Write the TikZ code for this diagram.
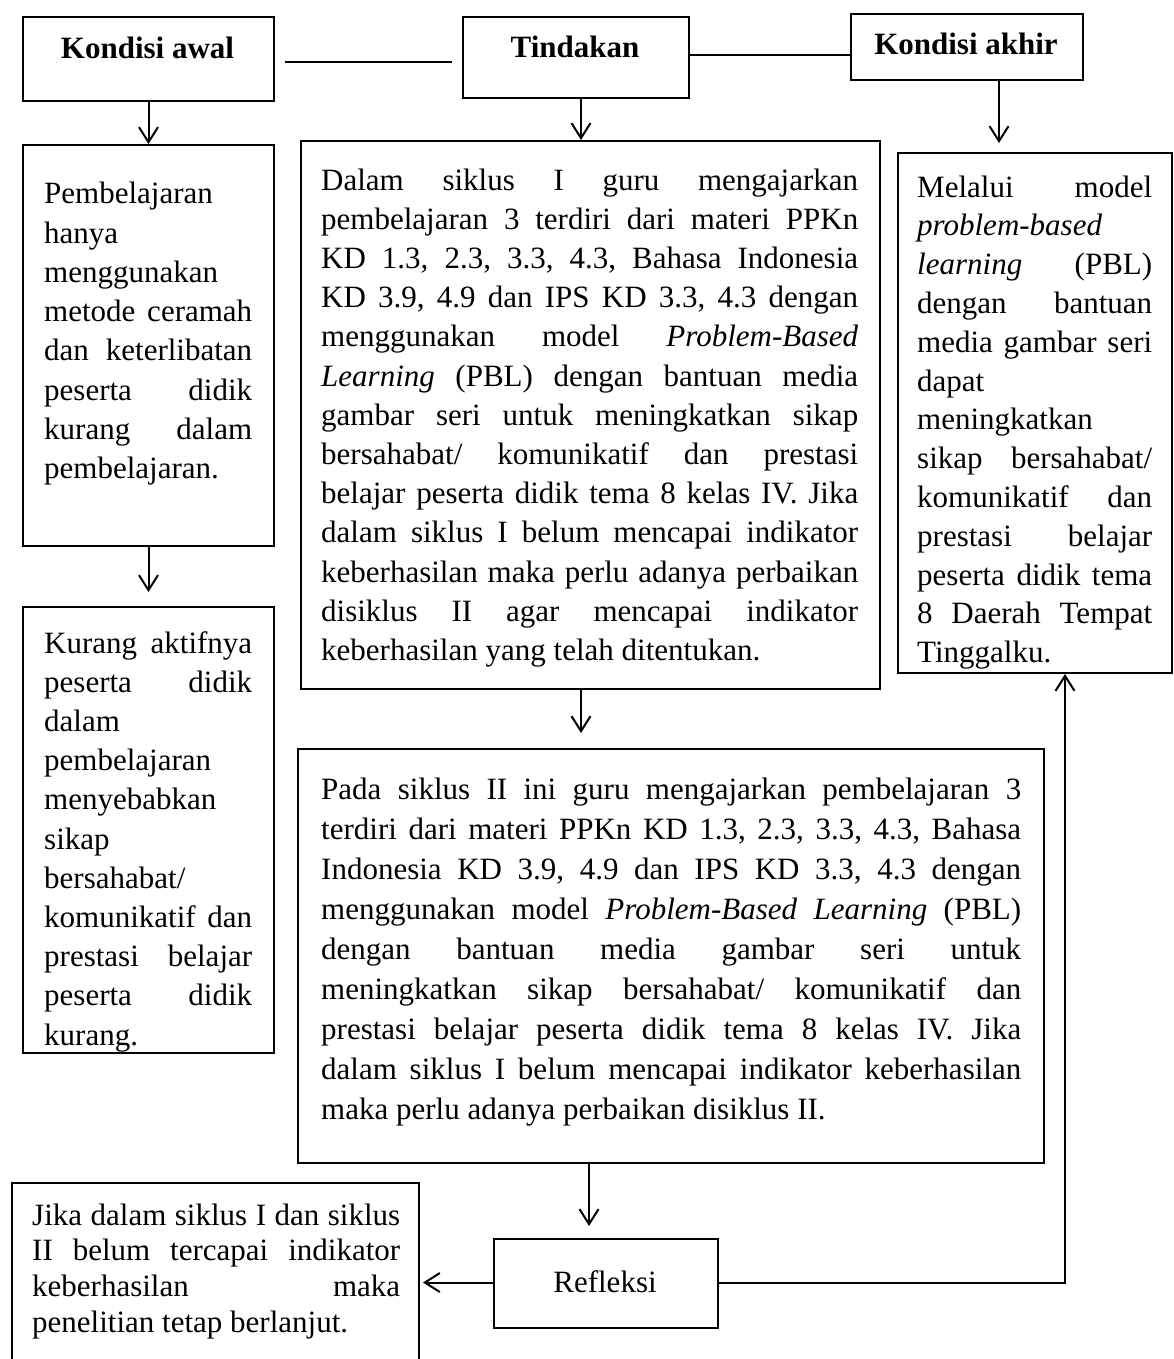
\documentclass[tikz,border=0pt]{standalone}
\usepackage{fontspec}
\setmainfont{Liberation Serif}
\usetikzlibrary{arrows.meta,calc}
\tolerance=10000
\pretolerance=-1
\hyphenpenalty=10000
\exhyphenpenalty=10000
\hbadness=10000
\frenchspacing
\begin{document}
\begin{tikzpicture}[x=1pt,y=-1pt,
  box/.style={draw,line width=2pt,rectangle,inner sep=0pt,anchor=north west},
  txt/.style={anchor=base west,inner sep=0pt,align=justify,font=\fontsize{31}{39.2}\selectfont},
  head/.style={anchor=base,inner sep=0pt,font=\fontsize{31}{39.2}\selectfont\bfseries},
  plain/.style={anchor=base,inner sep=0pt,font=\fontsize{31}{39.2}\selectfont},
  conn/.style={line width=2pt},
  arr/.style={line width=2pt,-{Straight Barb[length=15pt,width=19pt]}}
]
\fill[white] (0,0) rectangle (1173,1359);
\useasboundingbox (0,0) rectangle (1173,1359);

% header boxes
\node[box,minimum width=251pt,minimum height=84pt] (ka) at (22,16) {};
\node[box,minimum width=226pt,minimum height=81pt] (tind) at (462,16) {};
\node[box,minimum width=232pt,minimum height=66pt] (kak) at (850,13) {};
\node[head] (tka) at (147.5,59) {Kondisi awal};
\node[head] (ttind) at (575,58) {Tindakan};
\node[head] (tkak) at (966,55) {Kondisi akhir};

% content boxes
\node[box,minimum width=251pt,minimum height=401pt] (pemb) at (22,144) {};
\node[box,minimum width=579pt,minimum height=548pt] (dalam) at (300,140) {};
\node[box,minimum width=274pt,minimum height=520pt] (mel) at (897,152) {};
\node[box,minimum width=251pt,minimum height=446pt] (kur) at (22,606) {};
\node[box,minimum width=746pt,minimum height=414pt] (pada) at (297,748) {};
\node[box,minimum width=224pt,minimum height=89pt] (refl) at (493,1238) {};
\node[box,minimum width=407pt,minimum height=190pt] (jika) at (11,1182) {};

% texts
\node[txt,text width=208pt] (tpemb) at (44,204) {Pembelajaran \linebreak hanya \linebreak menggunakan \linebreak metode ceramah \linebreak dan keterlibatan \linebreak peserta didik \linebreak kurang dalam \linebreak pembelajaran.};

\node[txt,text width=208pt] (tkur) at (44,653) {Kurang aktifnya \linebreak peserta didik \linebreak dalam \linebreak pembelajaran \linebreak menyebabkan \linebreak sikap \linebreak bersahabat/ \linebreak komunikatif dan \linebreak prestasi belajar \linebreak peserta didik \linebreak kurang.};

\node[txt,text width=537pt] (tdalam) at (321,190) {Dalam siklus I guru mengajarkan \linebreak pembelajaran 3 terdiri dari materi PPKn \linebreak KD 1.3, 2.3, 3.3, 4.3, Bahasa Indonesia \linebreak KD 3.9, 4.9 dan IPS KD 3.3, 4.3 dengan \linebreak menggunakan model \textit{Problem-Based} \linebreak \textit{Learning} (PBL) dengan bantuan media \linebreak gambar seri untuk meningkatkan sikap \linebreak bersahabat/ komunikatif dan prestasi \linebreak belajar peserta didik tema 8 kelas IV. Jika \linebreak dalam siklus I belum mencapai indikator \linebreak keberhasilan maka perlu adanya perbaikan \linebreak disiklus II agar mencapai indikator \linebreak keberhasilan yang telah ditentukan.};

\node[txt,text width=235pt,font=\fontsize{31}{38.8}\selectfont] (tmel) at (917,197) {Melalui model \linebreak \textit{problem-based} \linebreak \textit{learning} (PBL) \linebreak dengan bantuan \linebreak media gambar seri \linebreak dapat \linebreak meningkatkan \linebreak sikap bersahabat/ \linebreak komunikatif dan \linebreak prestasi belajar \linebreak peserta didik tema \linebreak 8 Daerah Tempat \linebreak Tinggalku.};

\node[txt,text width=700pt,font=\fontsize{31}{40}\selectfont] (tpada) at (321,799) {Pada siklus II ini guru mengajarkan pembelajaran 3 \linebreak terdiri dari materi PPKn KD 1.3, 2.3, 3.3, 4.3, Bahasa \linebreak Indonesia KD 3.9, 4.9 dan IPS KD 3.3, 4.3 dengan \linebreak menggunakan model \textit{Problem-Based Learning} (PBL) \linebreak dengan bantuan media gambar seri untuk \linebreak meningkatkan sikap bersahabat/ komunikatif dan \linebreak prestasi belajar peserta didik tema 8 kelas IV. Jika \linebreak dalam siklus I belum mencapai indikator keberhasilan \linebreak maka perlu adanya perbaikan disiklus II.};

\node[txt,text width=368pt,font=\fontsize{31}{35.8}\selectfont] (tjika) at (32,1225) {Jika dalam siklus I dan siklus \linebreak II belum tercapai indikator \linebreak keberhasilan maka \linebreak penelitian tetap berlanjut.};

\node[plain] (trefl) at (605,1292) {Refleksi};

% anchor points for connectors
\coordinate (l1a) at ($(ka.east)+(10,3)$);
\coordinate (l1b) at ($(tind.west)+(-10,3)$);
\coordinate (l2a) at ($(tind.east)+(0,-2)$);
\coordinate (a2) at ($(tind.south)+(5,0)$);
\coordinate (a3) at ($(kak.south)+(32,0)$);
\coordinate (a5) at ($(dalam.south)+(-9.5,0)$);
\coordinate (a6) at ($(refl.north)+(-17,0)$);
\coordinate (a7) at ($(refl.west)+(0,-1)$);
\coordinate (a8) at ($(refl.east)+(0,-1)$);
\coordinate (a8m) at ($(mel.south)+(30,0)$);

% connectors
\draw[conn] (l1a) -- (l1a -| l1b);
\draw[conn] (l2a) -- (l2a -| kak.west);
\draw[arr] (ka.south) -- (pemb.north);
\draw[arr] (a2) -- (a2 |- dalam.north);
\draw[arr,shorten >=9pt] (a3) -- (a3 |- mel.north);
\draw[arr,shorten >=14pt] (pemb.south) -- (kur.north);
\draw[arr,shorten >=15pt] (a5) -- (a5 |- pada.north);
\draw[arr,shorten >=12pt] (a6 |- pada.south) -- (a6);
\draw[arr,shorten >=3pt] (a7) -- (a7 -| jika.east);
\draw[arr] (a8) -| (a8m);
\end{tikzpicture}
\end{document}
